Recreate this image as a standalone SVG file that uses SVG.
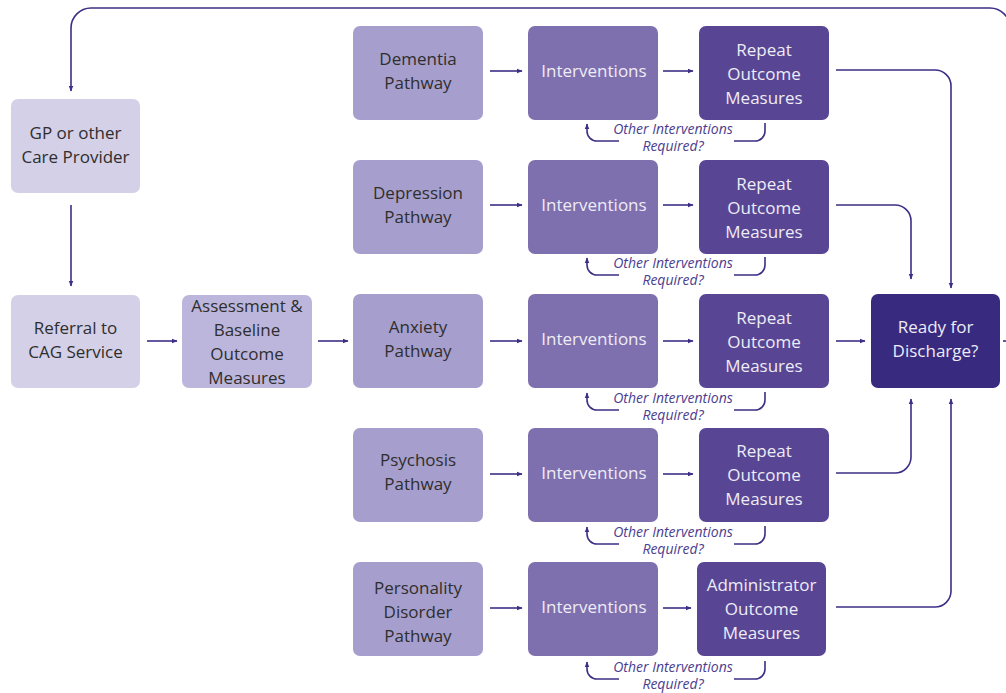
<svg xmlns="http://www.w3.org/2000/svg" width="1006" height="693" viewBox="0 0 1006 693">
<defs>
<marker id="ah" viewBox="0 0 10 10" refX="9" refY="5" markerWidth="6" markerHeight="6" markerUnits="userSpaceOnUse" orient="auto">
<path d="M0,1 L10,5 L0,9 Z" fill="#3b2f86"/>
</marker>
<style>
.box{stroke:none}
.c1{fill:#d3d0e8}
.c2{fill:#bdb6dc}
.c3{fill:#a69ecc}
.c4{fill:#7e70ae}
.c5{fill:#584694}
.c6{fill:#372a7f}
text{font-family:"Open Sans","Noto Sans",sans-serif;font-size:17px;text-anchor:middle}
.dk{fill:#2e2e2e}
.lt{fill:#eeecf6}
.fb{font-size:14px;font-style:italic;fill:#4a3d90}
.ln{fill:none;stroke:#3b2f86;stroke-width:1.6}
</style>
</defs>
<g id="connectors">
<path class="ln" d="M1010 28 A20 20 0 0 0 990 8 L91 8 A20 20 0 0 0 71 28 L71 91" marker-end="url(#ah)"/>
<path class="ln" d="M71 205 L71 286" marker-end="url(#ah)"/>
<path class="ln" d="M147 341 L177 341" marker-end="url(#ah)"/>
<path class="ln" d="M318 341 L348 341" marker-end="url(#ah)"/>
<path class="ln" d="M490 71 L522 71" marker-end="url(#ah)"/>
<path class="ln" d="M490 205 L522 205" marker-end="url(#ah)"/>
<path class="ln" d="M490 341 L522 341" marker-end="url(#ah)"/>
<path class="ln" d="M490 474 L522 474" marker-end="url(#ah)"/>
<path class="ln" d="M490 608 L522 608" marker-end="url(#ah)"/>
<path class="ln" d="M663 71 L693 71" marker-end="url(#ah)"/>
<path class="ln" d="M663 205 L693 205" marker-end="url(#ah)"/>
<path class="ln" d="M663 341 L693 341" marker-end="url(#ah)"/>
<path class="ln" d="M663 474 L693 474" marker-end="url(#ah)"/>
<path class="ln" d="M663 608 L691 608" marker-end="url(#ah)"/>
<path class="ln" d="M836 70 L935 70 A16 16 0 0 1 951 86 L951 288" marker-end="url(#ah)"/>
<path class="ln" d="M836 205 L895 205 A16 16 0 0 1 911 221 L911 279" marker-end="url(#ah)"/>
<path class="ln" d="M836 341 L865 341" marker-end="url(#ah)"/>
<path class="ln" d="M836 473 L895 473 A16 16 0 0 0 911 457 L911 399" marker-end="url(#ah)"/>
<path class="ln" d="M836 607 L935 607 A16 16 0 0 0 951 591 L951 399" marker-end="url(#ah)"/>
<path class="ln" d="M1003 341 L1010 341"/>
<g id="feedback">
<g id="fb1">
<path class="ln" d="M765 123 L765 131 A10 10 0 0 1 755 141 L734 141"/>
<path class="ln" d="M619 141 L597 141 A10 10 0 0 1 587 131 L587 124" marker-end="url(#ah)"/>
<text class="fb" x="673" y="134">Other Interventions</text>
<text class="fb" x="673" y="151">Required?</text>
</g>
<g id="fb2" transform="translate(0,134)">
<path class="ln" d="M765 123 L765 131 A10 10 0 0 1 755 141 L734 141"/>
<path class="ln" d="M619 141 L597 141 A10 10 0 0 1 587 131 L587 124" marker-end="url(#ah)"/>
<text class="fb" x="673" y="134">Other Interventions</text>
<text class="fb" x="673" y="151">Required?</text>
</g>
<g id="fb3" transform="translate(0,269)">
<path class="ln" d="M765 123 L765 131 A10 10 0 0 1 755 141 L734 141"/>
<path class="ln" d="M619 141 L597 141 A10 10 0 0 1 587 131 L587 124" marker-end="url(#ah)"/>
<text class="fb" x="673" y="134">Other Interventions</text>
<text class="fb" x="673" y="151">Required?</text>
</g>
<g id="fb4" transform="translate(0,403)">
<path class="ln" d="M765 123 L765 131 A10 10 0 0 1 755 141 L734 141"/>
<path class="ln" d="M619 141 L597 141 A10 10 0 0 1 587 131 L587 124" marker-end="url(#ah)"/>
<text class="fb" x="673" y="134">Other Interventions</text>
<text class="fb" x="673" y="151">Required?</text>
</g>
<g id="fb5" transform="translate(0,538)">
<path class="ln" d="M765 123 L765 131 A10 10 0 0 1 755 141 L734 141"/>
<path class="ln" d="M619 141 L597 141 A10 10 0 0 1 587 131 L587 124" marker-end="url(#ah)"/>
<text class="fb" x="673" y="134">Other Interventions</text>
<text class="fb" x="673" y="151">Required?</text>
</g>
</g>
</g>
<g id="gp"><rect class="box c1" x="11" y="99" width="129" height="94" rx="7"/><text class="dk" x="75.5" y="139">GP or other</text><text class="dk" x="75.5" y="163">Care Provider</text></g>
<g id="referral"><rect class="box c1" x="11" y="295" width="129" height="93" rx="7"/><text class="dk" x="75.5" y="334">Referral to</text><text class="dk" x="75.5" y="358">CAG Service</text></g>
<g id="assessment"><rect class="box c2" x="182" y="295" width="130" height="93" rx="7"/><text class="dk" x="247" y="312">Assessment &amp;</text><text class="dk" x="247" y="336">Baseline</text><text class="dk" x="247" y="360">Outcome</text><text class="dk" x="247" y="384">Measures</text></g>
<g id="dementia"><rect class="box c3" x="353" y="26" width="130" height="94" rx="7"/><text class="dk" x="418" y="65">Dementia</text><text class="dk" x="418" y="89">Pathway</text></g>
<g id="depression"><rect class="box c3" x="353" y="160" width="130" height="94" rx="7"/><text class="dk" x="418" y="199">Depression</text><text class="dk" x="418" y="223">Pathway</text></g>
<g id="anxiety"><rect class="box c3" x="353" y="294" width="130" height="94" rx="7"/><text class="dk" x="418" y="333">Anxiety</text><text class="dk" x="418" y="357">Pathway</text></g>
<g id="psychosis"><rect class="box c3" x="353" y="428" width="130" height="94" rx="7"/><text class="dk" x="418" y="466">Psychosis</text><text class="dk" x="418" y="490">Pathway</text></g>
<g id="personality"><rect class="box c3" x="353" y="562" width="130" height="94" rx="7"/><text class="dk" x="418" y="594">Personality</text><text class="dk" x="418" y="618">Disorder</text><text class="dk" x="418" y="642">Pathway</text></g>
<g id="int1"><rect class="box c4" x="528" y="26" width="130" height="94" rx="7"/><text class="lt" x="594" y="77">Interventions</text></g>
<g id="int2"><rect class="box c4" x="528" y="160" width="130" height="94" rx="7"/><text class="lt" x="594" y="211">Interventions</text></g>
<g id="int3"><rect class="box c4" x="528" y="294" width="130" height="94" rx="7"/><text class="lt" x="594" y="345">Interventions</text></g>
<g id="int4"><rect class="box c4" x="528" y="428" width="130" height="94" rx="7"/><text class="lt" x="594" y="479">Interventions</text></g>
<g id="int5"><rect class="box c4" x="528" y="562" width="130" height="94" rx="7"/><text class="lt" x="594" y="613">Interventions</text></g>
<g id="rep1"><rect class="box c5" x="699" y="26" width="130" height="94" rx="7"/><text class="lt" x="764" y="56">Repeat</text><text class="lt" x="764" y="80">Outcome</text><text class="lt" x="764" y="104">Measures</text></g>
<g id="rep2"><rect class="box c5" x="699" y="160" width="130" height="94" rx="7"/><text class="lt" x="764" y="190">Repeat</text><text class="lt" x="764" y="214">Outcome</text><text class="lt" x="764" y="238">Measures</text></g>
<g id="rep3"><rect class="box c5" x="699" y="294" width="130" height="94" rx="7"/><text class="lt" x="764" y="324">Repeat</text><text class="lt" x="764" y="348">Outcome</text><text class="lt" x="764" y="372">Measures</text></g>
<g id="rep4"><rect class="box c5" x="699" y="428" width="130" height="94" rx="7"/><text class="lt" x="764" y="457">Repeat</text><text class="lt" x="764" y="481">Outcome</text><text class="lt" x="764" y="505">Measures</text></g>
<g id="admin"><rect class="box c5" x="697" y="562" width="129" height="94" rx="7"/><text class="lt" x="761.5" y="591">Administrator</text><text class="lt" x="761.5" y="615">Outcome</text><text class="lt" x="761.5" y="639">Measures</text></g>
<g id="ready"><rect class="box c6" x="871" y="294" width="129" height="94" rx="7"/><text class="lt" x="935.5" y="333">Ready for</text><text class="lt" x="935.5" y="357">Discharge?</text></g>
</svg>
